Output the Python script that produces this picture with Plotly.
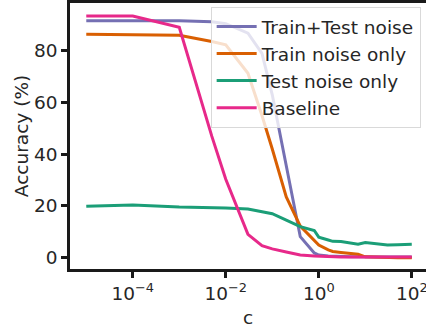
import plotly.graph_objects as go

# Regularisation strength grid
c_values = [1e-5, 1e-4, 1e-3, 5e-3, 1e-2, 0.03, 0.06, 0.1, 0.2, 0.4, 0.8, 1, 1.6, 2, 3, 5, 7, 10, 20, 30, 50, 100]

train_test_noise = [91.6, 91.6, 91.6, 91.2, 90.5, 86.8, 79.0, 63.0, 36.0, 8.1, 1.8, 1.0, 0.6, 0.5, 0.4, 0.3, 0.3, 0.2, 0.2, 0.2, 0.2, 0.2]
train_noise_only = [86.4, 86.3, 86.0, 83.6, 82.3, 71.3, 55.0, 42.0, 23.5, 12.2, 6.5, 4.9, 3.0, 2.4, 2.0, 1.6, 1.3, 0.3, 0.1, 0.0, 0.0, 0.0]
test_noise_only = [19.9, 20.4, 19.6, 19.4, 19.2, 18.8, 17.7, 17.0, 14.5, 12.0, 10.5, 7.9, 6.8, 6.3, 6.2, 5.6, 5.2, 5.8, 5.2, 4.9, 5.0, 5.2]
baseline = [93.5, 93.5, 89.1, 47.0, 30.3, 9.0, 4.6, 3.4, 2.2, 1.0, 0.6, 0.5, 0.3, 0.3, 0.2, 0.2, 0.2, 0.2, 0.2, 0.2, 0.2, 0.2]

series_names = ["Train+Test noise", "Train noise only", "Test noise only", "Baseline"]
series_values = [train_test_noise, train_noise_only, test_noise_only, baseline]
series_colors = ["#7570b3", "#d95f02", "#1b9e77", "#e7298a"]

x_tick_vals = [1e-4, 1e-2, 1, 100]
x_tick_text = ["10<sup>−4</sup>", "10<sup>−2</sup>", "10<sup>0</sup>", "10<sup>2</sup>"]
y_tick_vals = [0, 20, 40, 60, 80]

FONT = "DejaVu Sans"
FS = 18.5
TXT = "#262626"
AX = "#1a1a1a"

fig = go.Figure()
for name, vals, col in zip(series_names, series_values, series_colors):
    fig.add_trace(go.Scatter(x=c_values, y=vals, mode="lines", name=name,
                             line=dict(color=col, width=3)))

fig.update_layout(
    width=426, height=330,
    margin=dict(l=70, r=0, t=3, b=61),
    paper_bgcolor="white", plot_bgcolor="white",
    font=dict(family=FONT, size=FS, color=TXT),
    showlegend=True,
    legend=dict(x=0.985, y=0.985, xanchor="right", yanchor="top",
                bgcolor="rgba(255,255,255,0.8)", bordercolor="#d9d9d9", borderwidth=1,
                font=dict(family=FONT, size=FS, color=TXT),
                itemwidth=40, tracegroupgap=0),
)
fig.update_xaxes(
    type="log", range=[-5.35, 2.306], automargin=False,
    tickvals=x_tick_vals, ticktext=x_tick_text, ticklabeloverflow="allow",
    showgrid=False, zeroline=False,
    showline=True, linecolor=AX, linewidth=2.5, mirror=True,
    ticks="outside", ticklen=6, tickwidth=2.5, tickcolor=AX,
    tickfont=dict(family=FONT, size=FS, color=TXT),
    title=dict(text="c", font=dict(family=FONT, size=FS, color=TXT), standoff=9),
)
fig.update_yaxes(
    range=[-4.4, 98.5], automargin=False,
    tickvals=y_tick_vals,
    showgrid=False, zeroline=False,
    showline=True, linecolor=AX, linewidth=2.5,
    ticks="outside", ticklen=6, tickwidth=2.5, tickcolor=AX,
    tickfont=dict(family=FONT, size=FS, color=TXT),
    title=dict(text="Accuracy (%)", font=dict(family=FONT, size=FS, color=TXT), standoff=1),
)

fig.write_html("out.html", config={"displayModeBar": False},
               post_script="document.body.style.margin='0';document.body.style.overflow='hidden';")
